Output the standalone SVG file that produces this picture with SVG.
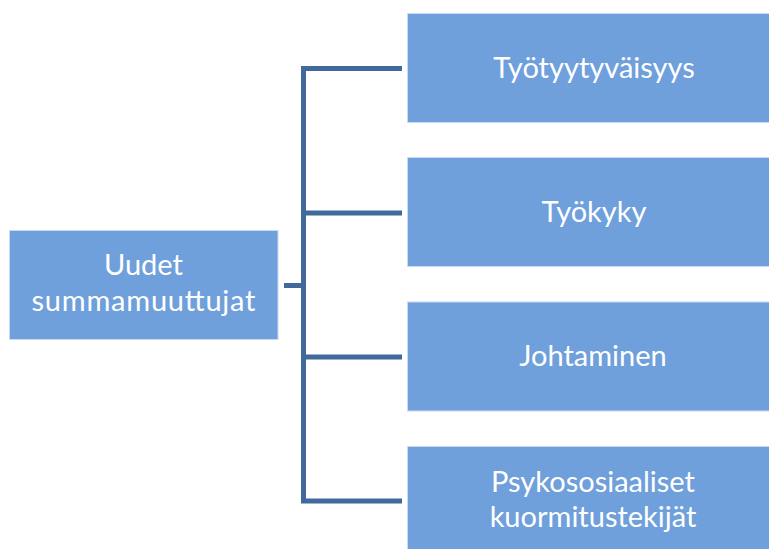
<svg xmlns="http://www.w3.org/2000/svg" width="769" height="549" viewBox="0 0 769 549">
  <style>
    .box { fill: #6FA0DC; stroke: #C9DAF0; stroke-width: 1; }
    .lbl { font-family: Lato, "Liberation Sans", Arial, sans-serif; font-size: 29px; fill: #FFFFFF; text-anchor: middle; }
    .conn { fill: none; stroke: #41699B; stroke-width: 5; stroke-linejoin: miter; }
  </style>
  <rect width="769" height="549" fill="#FFFFFF"/>
  <g id="connectors">
    <path class="conn" d="M284,285.5 H303.5"/>
    <path class="conn" d="M402,68.5 H303.5 V501 H402"/>
    <path class="conn" d="M303.5,213 H402"/>
    <path class="conn" d="M303.5,357 H402"/>
  </g>
  <g id="node-uudet">
    <rect class="box" x="9.5" y="230.5" width="268.5" height="109"/>
    <text class="lbl" x="143.5" y="275">Uudet</text>
    <text class="lbl" x="143.5" y="311" textLength="224" lengthAdjust="spacing">summamuuttujat</text>
  </g>
  <g id="node-tyotyytyvaisyys">
    <rect class="box" x="407.5" y="13.5" width="374" height="109"/>
    <text class="lbl" x="594" y="78">Työtyytyväisyys</text>
  </g>
  <g id="node-tyokyky">
    <rect class="box" x="407.5" y="157.5" width="374" height="109"/>
    <text class="lbl" x="594" y="222">Työkyky</text>
  </g>
  <g id="node-johtaminen">
    <rect class="box" x="407.5" y="302" width="374" height="109"/>
    <text class="lbl" x="593" y="366">Johtaminen</text>
  </g>
  <g id="node-psykososiaaliset">
    <rect class="box" x="407.5" y="446.5" width="374" height="109"/>
    <text class="lbl" x="593" y="492">Psykososiaaliset</text>
    <text class="lbl" x="593" y="527">kuormitustekijät</text>
  </g>
</svg>
